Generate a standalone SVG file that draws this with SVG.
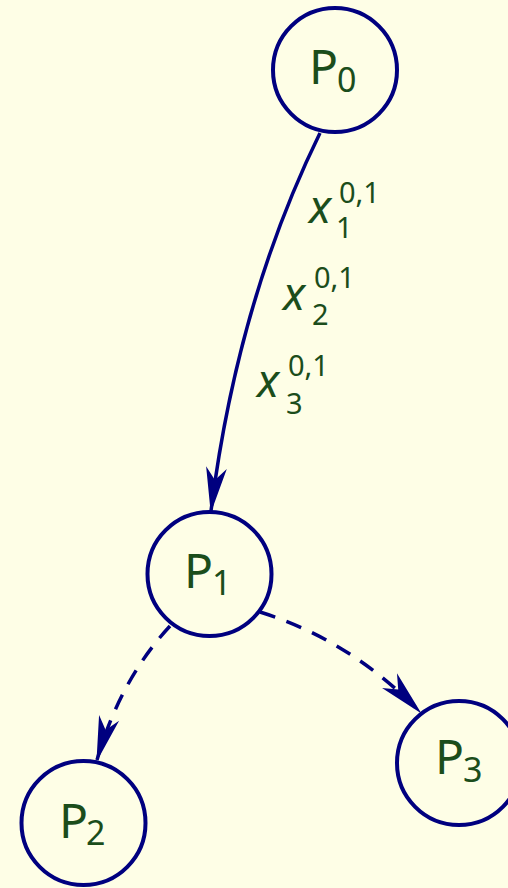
<svg xmlns="http://www.w3.org/2000/svg" width="508" height="888" viewBox="0 0 508 888">
<defs>
<style>
.node{fill:none;stroke:#00007f;stroke-width:4}
.lbl{font-family:"Noto Sans","Open Sans",sans-serif;fill:#1b4d1b}
.edge{fill:none;stroke:#00007f;stroke-width:3.5}
.dash{stroke-dasharray:16 12}
.v{font-size:46px;font-style:italic}
.s{font-size:29px}
</style>
<marker id="arr" markerUnits="userSpaceOnUse" markerWidth="50" markerHeight="30" viewBox="-44 -12 48 24" refX="0" refY="0" orient="auto">
<path d="M2,0 L-42,-10 L-30,0 L-42,10 Z" fill="#00007f"/>
</marker>
</defs>
<rect width="508" height="888" fill="#fefee6"/>
<g id="edges">
<path class="edge" d="M320,133 C270,235 230,360 211,511" marker-end="url(#arr)"/>
<path class="edge dash" d="M170,626 Q120,680 97,760" marker-end="url(#arr)"/>
<path class="edge dash" d="M260,612 Q350,640 420,712" marker-end="url(#arr)"/>
</g>
<g id="labels">
<text class="lbl"><tspan class="v" x="309" y="223">x</tspan><tspan class="s" x="339" y="203">0,1</tspan><tspan class="s" x="336" y="238">1</tspan></text>
<text class="lbl"><tspan class="v" x="283" y="310">x</tspan><tspan class="s" x="314" y="288">0,1</tspan><tspan class="s" x="312" y="325">2</tspan></text>
<text class="lbl"><tspan class="v" x="257" y="397">x</tspan><tspan class="s" x="288" y="376">0,1</tspan><tspan class="s" x="286" y="414">3</tspan></text>
</g>
<g id="P0">
<circle class="node" cx="335" cy="70" r="62"/>
<text class="lbl" font-size="48" x="309" y="84">P<tspan font-size="34" x="337" y="92">0</tspan></text>
</g>
<g id="P1">
<circle class="node" cx="209.5" cy="574" r="62"/>
<text class="lbl" font-size="48" x="184" y="588">P<tspan font-size="34" x="212" y="595">1</tspan></text>
</g>
<g id="P2">
<circle class="node" cx="83.5" cy="823" r="62"/>
<text class="lbl" font-size="48" x="59" y="838">P<tspan font-size="34" x="86" y="845">2</tspan></text>
</g>
<g id="P3">
<circle class="node" cx="459" cy="763" r="62"/>
<text class="lbl" font-size="48" x="435" y="774">P<tspan font-size="34" x="463" y="782">3</tspan></text>
</g>
</svg>
